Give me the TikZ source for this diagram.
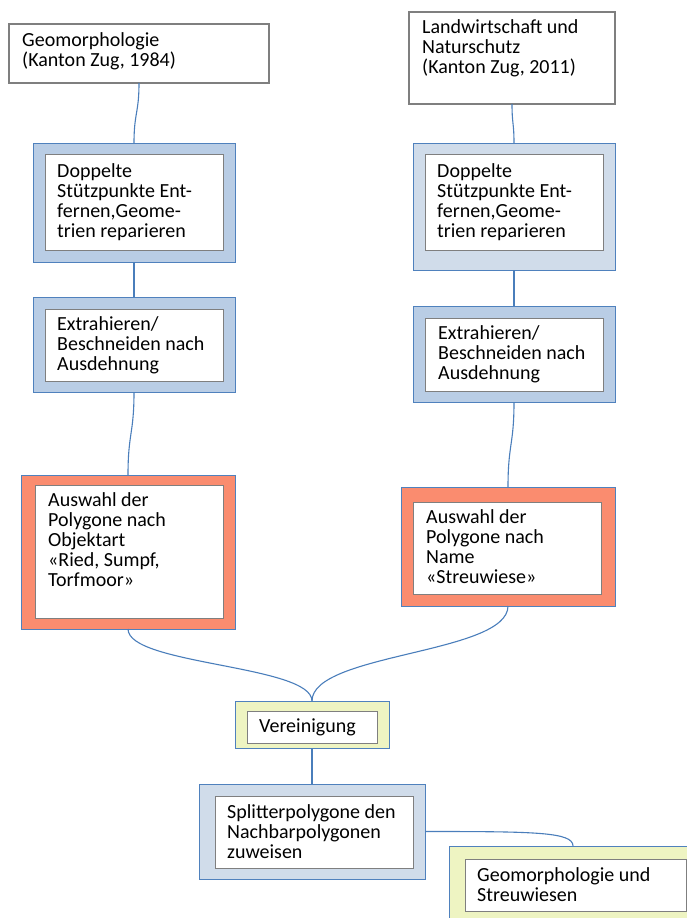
\documentclass[tikz,border=0pt]{standalone}
\usepackage{fontspec}
\setmainfont{Carlito}

\definecolor{linkblue}{HTML}{4A7EBB}
\definecolor{frameblue}{HTML}{4F81BD}
\definecolor{steelfill}{HTML}{B9CDE5}
\definecolor{palefill}{HTML}{D0DCEA}
\definecolor{salmonfill}{HTML}{FA8C6F}
\definecolor{lemonfill}{HTML}{EEF4C2}
\definecolor{framegray}{HTML}{7F7F7F}

% multi-line text whose first baseline is the node's base
\newcommand\txtlines[1]{\begin{tabular}[t]{@{}l@{}}#1\end{tabular}}

\tikzset{
  outerbox/.style={draw=frameblue, line width=1pt, inner sep=0pt, outer sep=0pt, anchor=north west},
  innerbox/.style={draw=framegray, fill=white, line width=1.4pt, inner sep=0pt, anchor=north west},
  srcbox/.style={draw=framegray, fill=white, line width=1.2pt, inner sep=0pt, outer sep=0pt, anchor=north west},
  boxtext/.style={anchor=base west, inner sep=0pt, font=\fontsize{20}{20}\selectfont},
  link/.style={draw=linkblue, line width=1.1pt},
}

\begin{document}
\begin{tikzpicture}[x=1pt, y=-1pt]
\useasboundingbox (0,0) rectangle (687,918);
\clip (0,0) rectangle (687,918);
\fill[white] (0,0) rectangle (687,918);

% source layers
\node[srcbox, minimum width=260pt, minimum height=59pt] (geo) at (9,24) {};
\node[boxtext] (geot) at (22,46) {\txtlines{Geomorphologie\\(Kanton Zug, 1984)}};
\node[srcbox, minimum width=206pt, minimum height=92pt] (lwn) at (409,12) {};
\node[boxtext] (lwnt) at (422,33) {\txtlines{Landwirtschaft und\\Naturschutz\\(Kanton Zug, 2011)}};

% cleaning steps
\node[outerbox, fill=steelfill, minimum width=202pt, minimum height=119pt] (dl) at (33,143) {};
\node[innerbox, minimum width=178pt, minimum height=96pt] (dli) at (45,154) {};
\node[boxtext] (dlt) at (57,177) {\txtlines{Doppelte\\Stützpunkte Ent-\\fernen,Geome-\\trien reparieren}};

\node[outerbox, fill=palefill, minimum width=202pt, minimum height=127pt] (dr) at (413,143) {};
\node[innerbox, minimum width=178pt, minimum height=96pt] (dri) at (425,154) {};
\node[boxtext] (drt) at (437,177) {\txtlines{Doppelte\\Stützpunkte Ent-\\fernen,Geome-\\trien reparieren}};

% clipping to extent
\node[outerbox, fill=steelfill, minimum width=202pt, minimum height=95pt] (el) at (33,297) {};
\node[innerbox, minimum width=178pt, minimum height=72pt] (eli) at (45,309) {};
\node[boxtext] (elt) at (57,330) {\txtlines{Extrahieren/\\Beschneiden nach\\Ausdehnung}};

\node[outerbox, fill=steelfill, minimum width=202pt, minimum height=96pt] (er) at (413,306) {};
\node[innerbox, minimum width=178pt, minimum height=73pt] (eri) at (425,318) {};
\node[boxtext] (ert) at (438,339) {\txtlines{Extrahieren/\\Beschneiden nach\\Ausdehnung}};

% selections
\node[outerbox, fill=salmonfill, minimum width=214pt, minimum height=154pt] (al) at (21,475) {};
\node[innerbox, minimum width=188pt, minimum height=133pt] (ali) at (35,485) {};
\node[boxtext] (alt) at (48,506) {\txtlines{Auswahl der\\Polygone nach\\Objektart\\«Ried, Sumpf,\\Torfmoor»}};

\node[outerbox, fill=salmonfill, minimum width=214pt, minimum height=119pt] (ar) at (401,487) {};
\node[innerbox, minimum width=188pt, minimum height=92pt] (ari) at (413,502) {};
\node[boxtext] (art) at (426,523) {\txtlines{Auswahl der\\Polygone nach\\Name\\«Streuwiese»}};

% union
\node[outerbox, fill=lemonfill, minimum width=154pt, minimum height=47pt] (un) at (235,701) {};
\node[innerbox, minimum width=130pt, minimum height=32pt] (uni) at (247,711) {};
\node[boxtext] (unt) at (259,732) {Vereinigung};

% sliver assignment
\node[outerbox, fill=palefill, minimum width=226pt, minimum height=95pt] (sp) at (199,784) {};
\node[innerbox, minimum width=198pt, minimum height=72pt] (spi) at (215,796) {};
\node[boxtext] (spt) at (227,818) {\txtlines{Splitterpolygone den\\Nachbarpolygonen\\zuweisen}};

% result
\node[outerbox, fill=lemonfill, minimum width=248pt, minimum height=78pt] (gs) at (449,846) {};
\node[innerbox, minimum width=221pt, minimum height=52pt] (gsi) at (465,859) {};
\node[boxtext] (gst) at (477,881) {\txtlines{Geomorphologie und\\Streuwiesen}};

% connectors
\draw[link] (geo.south) .. controls +(0,30) and +(0,-30) .. (dl.north);
\draw[link] (lwn.south) .. controls +(0,20) and +(0,-20) .. (dr.north);
\draw[link] (dl.south) -- (el.north);
\draw[link] (dr.south) -- (er.north);
\draw[link] (el.south) .. controls +(0,42) and +(0,-42) .. (al.north);
\draw[link] (er.south) .. controls +(0,43) and +(0,-43) .. (ar.north);
\draw[link] (al.south) .. controls +(0,36) and +(0,-36) .. (un.north);
\draw[link] (ar.south) .. controls +(0,48) and +(0,-48) .. (un.north);
\draw[link] (un.south) -- (sp.north);
\draw[link] (sp.east) .. controls +(110,0) and +(0,-14) .. (gs.north);
\end{tikzpicture}
\end{document}
